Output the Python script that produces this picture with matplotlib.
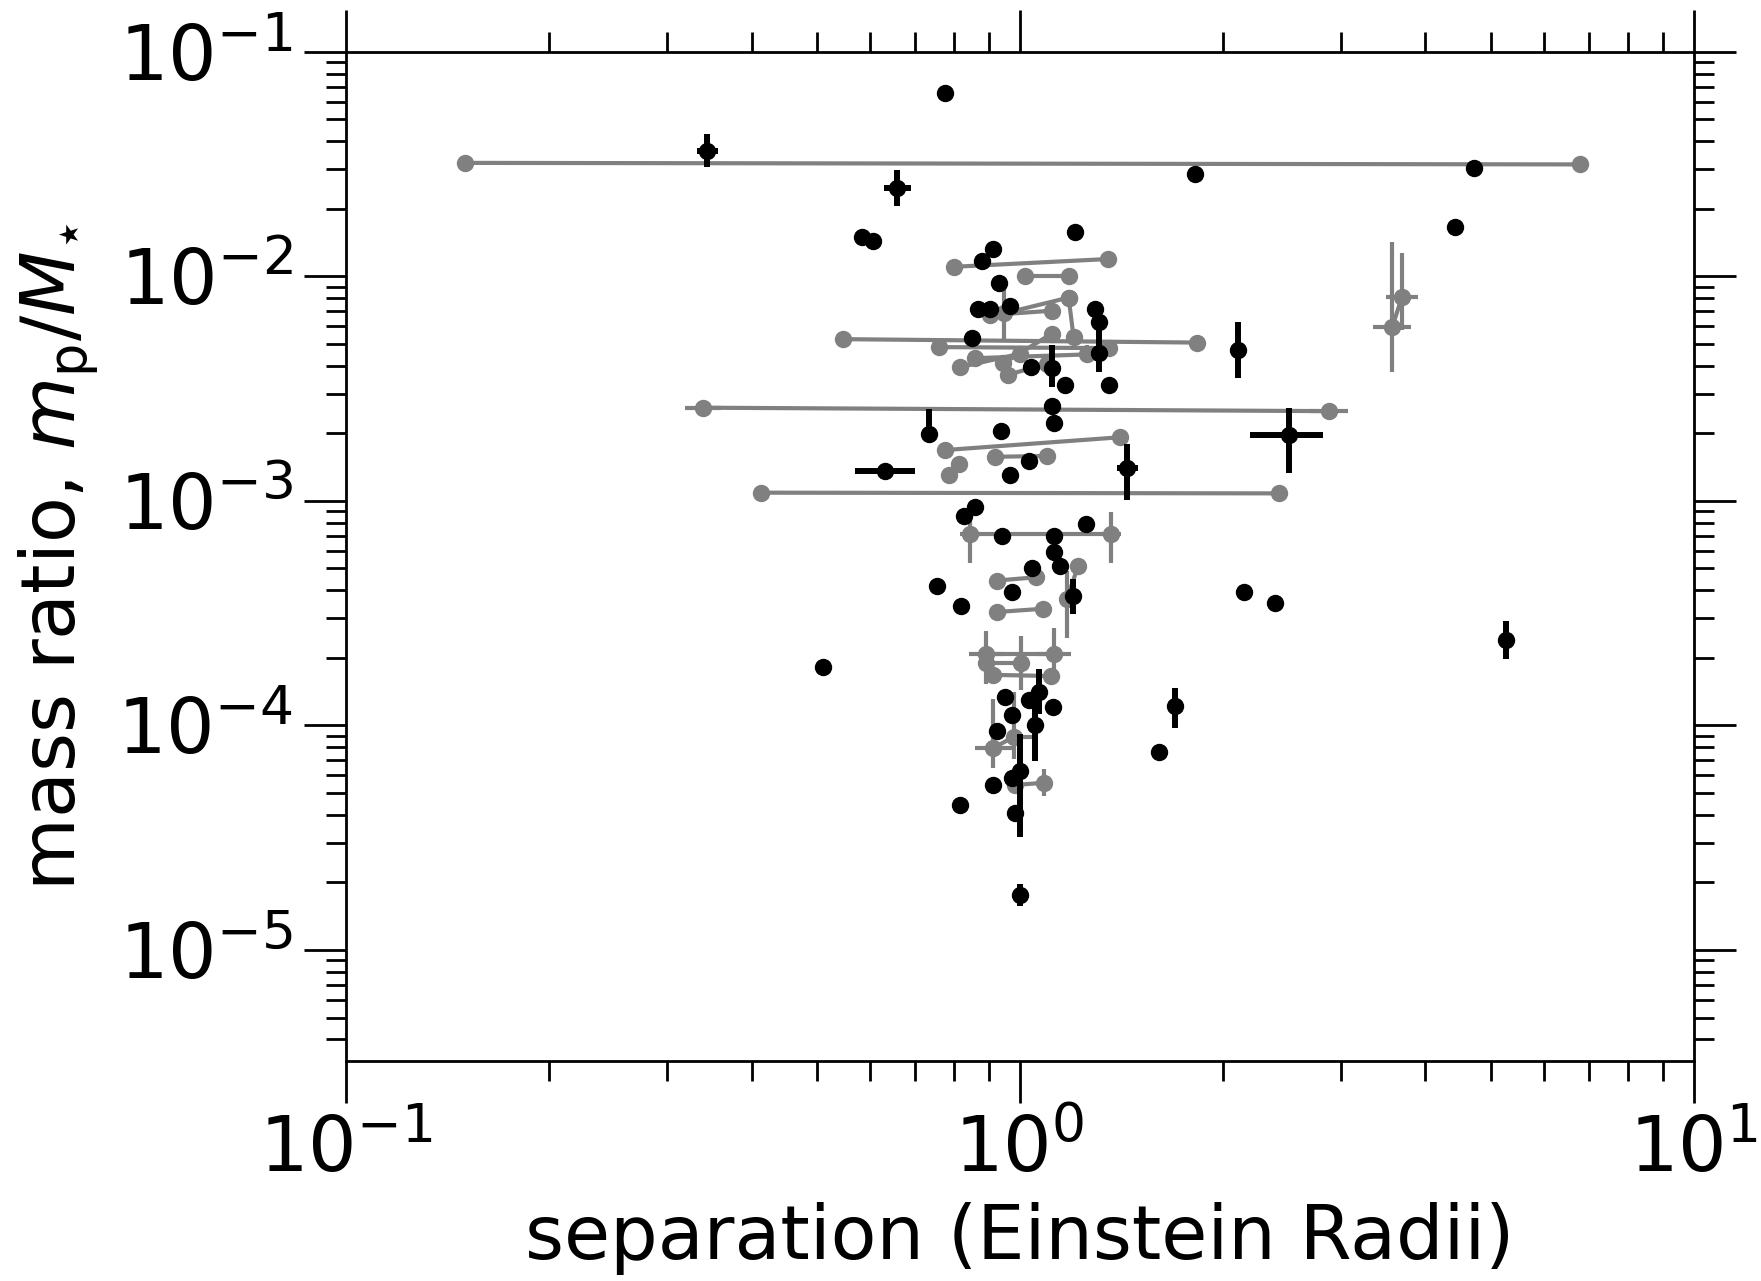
import numpy as np
import matplotlib
matplotlib.use("Agg")
import matplotlib.pyplot as plt

# ---------------- data ----------------
# black: single-solution planets without error bars
black_sep = [0.776, 1.820, 4.73, 4.42, 0.584, 0.605, 0.912, 0.878, 1.207, 0.933,
             0.905, 0.966, 1.293, 1.313, 0.851, 1.039, 1.166, 1.359, 1.118, 1.126,
             0.937, 0.966, 0.858, 0.940, 1.126, 1.256, 1.126, 1.148, 1.043, 0.753,
             0.973, 0.819, 2.154, 2.389, 0.951, 1.031, 1.122, 0.973, 0.926, 0.973,
             0.912, 0.816, 0.985]
black_q = [0.0653, 0.0285, 0.0305, 0.0166, 0.0150, 0.0143, 0.0132, 0.01175, 0.0158, 0.00933,
           0.00716, 0.00741, 0.00716, 0.00624, 0.00531, 0.00396, 0.00327, 0.00327, 0.002646, 0.002213,
           0.00204, 0.00131, 0.000944, 0.0007, 0.000696, 0.000785, 0.000592, 0.000513, 0.000501, 0.000417,
           0.000394, 0.000339, 0.000394, 0.000351, 0.000134, 0.0001296, 0.000121, 0.000111, 9.44e-5, 5.82e-5,
           5.43e-5, 4.42e-5, 4.07e-5]

# black: single-solution planets with error bars (errors in dex)
blackerr_sep = [0.344, 0.658, 0.868, 1.313, 1.118, 2.105, 0.733, 2.512, 0.631, 1.031,
                1.445, 0.827, 1.198, 0.511, 5.27, 1.698, 1.610, 1.067, 1.055, 1.0, 1.0]
blackerr_q = [0.0363, 0.0248, 0.00716, 0.00457, 0.00389, 0.00468, 0.001995, 0.001972, 0.001357, 0.001505,
              0.001404, 0.000856, 0.000376, 0.000182, 0.00024, 0.0001224, 7.59e-5, 0.000141, 0.0001, 6.24e-5,
              1.76e-5]
blackerr_q_lo = [0.075, 0.08, 0.03, 0.085, 0.085, 0.125, 0.0, 0.169, 0.0, 0.03,
                 0.143, 0.03, 0.078, 0.02, 0.083, 0.10, 0.02, 0.10, 0.16, 0.29, 0.05]
blackerr_q_hi = [0.075, 0.08, 0.03, 0.14, 0.105, 0.125, 0.11, 0.12, 0.0, 0.03,
                 0.108, 0.03, 0.078, 0.02, 0.083, 0.08, 0.02, 0.10, 0.115, 0.165, 0.05]
blackerr_s_lo = [0.015, 0.02, 0.0, 0.0, 0.0, 0.0, 0.0, 0.058, 0.045, 0.0,
                 0.016, 0.0, 0.0, 0.01, 0.0, 0.0, 0.0, 0.0, 0.0, 0.0, 0.0]
blackerr_s_hi = [0.015, 0.02, 0.0, 0.0, 0.0, 0.0, 0.0, 0.05, 0.045, 0.0,
                 0.016, 0.0, 0.0, 0.01, 0.0, 0.0, 0.0, 0.0, 0.0, 0.0, 0.0]

# gray: degenerate solution pairs (close / wide)
pair_sep1 = [0.150, 0.547, 0.339, 0.413, 0.80, 1.019, 0.948, 0.905, 1.182, 0.759,
             0.858, 0.816, 0.946, 0.962, 0.775, 0.919, 0.786, 0.844, 0.926, 0.926,
             1.221, 0.891, 0.891, 0.912, 0.914, 0.985, 3.69]
pair_q1 = [0.0320, 0.00525, 0.0026, 0.001088, 0.01103, 0.0100, 0.00684, 0.00672, 0.00804, 0.00484,
           0.00432, 0.00394, 0.0041, 0.00365, 0.001684, 0.001572, 0.001303, 0.000712, 0.000442, 0.00032,
           0.000513, 0.000207, 0.00019, 0.000168, 7.94e-5, 5.43e-5, 0.00805]
pair_sep2 = [6.79, 1.831, 2.873, 2.428, 1.352, 1.184, 1.182, 1.116, 1.202, 1.357,
             1.259, 1.0, 1.116, 1.096, 1.409, 1.099, 0.813, 1.365, 1.059, 1.084,
             1.175, 1.126, 1.004, 1.113, 0.981, 1.088, 3.57]
pair_q2 = [0.0315, 0.00507, 0.00251, 0.00108, 0.01194, 0.0100, 0.00804, 0.00703, 0.00537, 0.00479,
           0.00449, 0.00452, 0.00556, 0.00407, 0.00192, 0.001585, 0.001459, 0.000712, 0.000457, 0.000331,
           0.000367, 0.000207, 0.00019, 0.000166, 8.91e-5, 5.56e-5, 0.00592]

# gray solutions with error bars (errors in dex)
grayerr_sep = [0.339, 2.873, 1.019, 0.948, 1.259, 0.962, 1.099, 0.844, 1.365, 1.175,
               0.891, 1.126, 1.004, 0.914, 0.981, 1.088, 3.69, 3.57]
grayerr_q = [0.0026, 0.00251, 0.0100, 0.00684, 0.00449, 0.00365, 0.001585, 0.000712, 0.000712, 0.000367,
             0.000207, 0.000207, 0.00019, 7.94e-5, 8.91e-5, 5.56e-5, 0.00805, 0.00592]
grayerr_q_lo = [0.0, 0.0, 0.03, 0.12, 0.04, 0.04, 0.03, 0.13, 0.13, 0.175,
                0.13, 0.12, 0.12, 0.09, 0.10, 0.06, 0.145, 0.20]
grayerr_q_hi = [0.0, 0.0, 0.03, 0.12, 0.04, 0.04, 0.03, 0.10, 0.10, 0.125,
                0.105, 0.12, 0.12, 0.22, 0.20, 0.06, 0.20, 0.38]
grayerr_s_lo = [0.027, 0.029, 0.0, 0.0, 0.0, 0.0, 0.0, 0.015, 0.015, 0.0,
                0.025, 0.025, 0.0, 0.027, 0.0, 0.01, 0.024, 0.028]
grayerr_s_hi = [0.027, 0.029, 0.0, 0.0, 0.0, 0.0, 0.0, 0.015, 0.015, 0.0,
                0.025, 0.025, 0.0, 0.027, 0.027, 0.01, 0.024, 0.028]


def dex_err(v, lo, hi):
    v = np.asarray(v, float)
    lo = np.asarray(lo, float)
    hi = np.asarray(hi, float)
    return np.vstack([v * (1 - 10 ** (-lo)), v * (10 ** hi - 1)])


# ---------------- figure ----------------
FS_TICK = 55
FS_LABEL = 54
GRAY = "#808080"
MS = 11.5

fig = plt.figure(figsize=(17.61, 12.81), dpi=100)
ax = fig.add_axes([0.1964, 0.1716, 0.9617 - 0.1964, 0.9596 - 0.1716])
ax.set_xscale("log")
ax.set_yscale("log")

# gray pairs
for s1, q1, s2, q2 in zip(pair_sep1, pair_q1, pair_sep2, pair_q2):
    ax.plot([s1, s2], [q1, q2], "-", color=GRAY, lw=3, zorder=2)
ax.errorbar(grayerr_sep, grayerr_q,
            xerr=dex_err(grayerr_sep, grayerr_s_lo, grayerr_s_hi),
            yerr=dex_err(grayerr_q, grayerr_q_lo, grayerr_q_hi),
            fmt="none", ecolor=GRAY, elinewidth=3, capsize=0, zorder=2)
ax.plot(pair_sep1 + pair_sep2, pair_q1 + pair_q2, "o", color=GRAY, ms=MS,
        mec=GRAY, zorder=3)

# black points
ax.errorbar(blackerr_sep, blackerr_q,
            xerr=dex_err(blackerr_sep, blackerr_s_lo, blackerr_s_hi),
            yerr=dex_err(blackerr_q, blackerr_q_lo, blackerr_q_hi),
            fmt="o", color="k", ms=MS, elinewidth=4.3, capsize=0, zorder=4)
ax.plot(black_sep, black_q, "o", color="k", ms=MS, zorder=4)

ax.set_xlim(0.1, 10)
ax.set_ylim(10 ** -5.495, 0.1)

for sp in ax.spines.values():
    sp.set_linewidth(2)
ax.tick_params(which="both", direction="out", top=True, right=True,
               labeltop=False, labelright=False, width=2)
ax.tick_params(which="major", length=30, labelsize=FS_TICK, pad=8)
ax.tick_params(which="minor", length=14.5)

ax.set_xlabel("separation (Einstein Radii)", fontsize=FS_LABEL, labelpad=10)
ax.set_ylabel(r"mass ratio, $m_{\rm p}/M_{\star}$", fontsize=FS_LABEL, labelpad=12)

fig.savefig("out.png", dpi=100)
